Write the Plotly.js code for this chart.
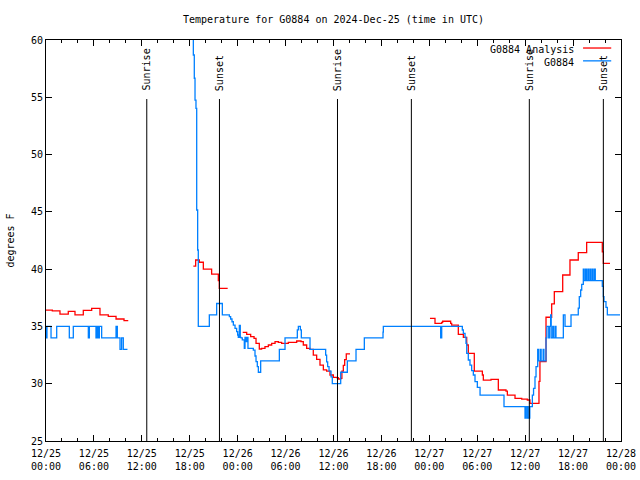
<!DOCTYPE html>
<html><head><meta charset="utf-8">
<script src="https://cdn.plot.ly/plotly-3.0.1.min.js"></script>
<style>html,body{margin:0;padding:0;background:#fff}#chart{width:640px;height:480px}</style>
</head><body><div id="chart"></div>
<script>
// Analysis series (hours since 2024-12-25 00:00 UTC, degrees F); null = gap
const analysisHours = [0,0.79,1.75,2.79,3.63,4.67,5.72,6.76,7.8,8.77,9.77,10.3, 14,
  18.45,18.74,19.2,19.7,20.74,21.58,21.7,22.75, 23.5,
  24.63,25.13,25.63,26.05,26.3,26.71,27.0,27.42,27.84,28.26,28.68,29.09,29.51,30.34,31.39,31.93,32.22,32.64,33.06,33.47,33.89,34.31,34.73,35.14,35.56,35.98,36.4,36.6,36.9,37.05,37.23,37.4,37.6,38.07, 42,
  48.08,48.71,49.55,49.67,50.67,50.8,51.63,52.26,52.68,52.88,53.63,54.64,54.76,55.72,56.64,57.6,57.77,58.73,59.57,60.27,60.6,61.73,61.85,62.61,63.32,63.65,64.7,65.61,66.65,67.7,69.66,69.79,70.62];
const analysisTemps = [36.43,36.35,36.08,36.32,36.0,36.4,36.58,36.0,35.88,35.65,35.5,35.5, null,
  40.27,40.8,40.6,40.01,39.57,38.99,38.33,38.33, null,
  34.48,34.31,34.11,33.96,33.52,33.03,33.09,33.23,33.38,33.52,33.67,33.61,33.52,33.61,33.73,33.67,33.38,33.09,33.0,32.5,32.13,31.63,31.2,31.1,30.76,30.56,30.53,30.41,30.47,31.1,31.6,32.1,32.6,32.6, null,
  35.71,35.27,35.36,35.45,35.27,35.12,34.31,34.05,33.38,32.65,31.1,30.76,30.32,30.38,29.45,29.36,29.0,28.72,28.66,28.58,28.29,30.2,31.93,35.8,36.96,38.03,39.49,40.8,41.44,42.34,41.5,40.5,40.5];

// Observation series
const obsHours = [0,0.04,0.12,0.63,1.34,2.92,3.42,5.3,5.43,6.26,6.35,6.45,6.52,6.6,6.68,6.97,8.77,8.93,9.27,9.47,9.68,10.2, 14,
  18.2,18.45,18.57,18.66,18.78,18.87,18.99,19.07,20.45,21.37,22.08,22.71,22.96,23.12,23.29,23.46,23.67,23.87,24.0,24.08,24.21,24.33,24.42,24.58,24.83,24.92,25.04,25.17,25.29,25.96,26.17,26.3,26.46,26.59,26.88,
  29.22,29.93,31.47,31.6,31.85,31.97,33.06,35.02,35.14,35.27,35.44,35.69,35.85,36.9,37.73,38.82,39.86,42.2,42.24,49.42,49.55,
  52.13,52.26,52.47,52.59,52.68,52.88,53.09,53.3,53.51,53.72,54.01,54.35,57.35,59.98,60.1,60.27,60.45,60.52,60.58,60.9,61.05,61.23,61.36,
  61.57,61.68,61.9,62.0,62.25,62.35,
  62.61,62.72,62.95,63.05,63.19,63.26,63.45,63.55,63.75,63.86,64.78,64.99,65.74,66.65,66.78,66.95,67.08,
  67.28,67.38,67.56,67.66,67.84,67.94,68.12,68.22,68.4,68.5,68.68,68.78,68.96,69.66,69.79,69.87,70.12,70.29,71.88];
const obsTemps = [35,34,35,34,35,34,35,34,35,34,35,34,35,34,35,34,35,34,33,34,33,33, null,
  75,58.69,56.66,54.76,54.04,45.16,41.67,35,36,37,36,36,35.85,35.65,35.41,35.12,34.83,34.54,34.25,34.05,35.1,34.05,34.0,33.82,33.09,34.05,33.67,34.05,33.09,32.94,32.42,31.92,31.49,31.0,32.0,
  33,34,34.7,35,34.7,34,33,32.5,31.9,31.5,31.1,30.6,30.0,31,32,33,34,34.5,35,34,35,
  34.69,34.4,34.05,33.52,32.65,32.07,31.63,31.14,30.76,30.18,29.68,29,28,27,28,27,28,27,28,29,29.6,30.6,31.5,
  33,32,33,32,33,32,
  34,35,34,35,36,34,35,34,35,34,36,35,36,36.6,37.6,38.18,38.67,
  40,39,40,39,40,39,40,39,40,39,40,39,39,38.5,37.6,37.16,36.67,36,36];

const sunEventHours = [12.62, 21.72, 36.5, 45.75, 60.52, 69.79];
const sunEventLabels = ['Sunrise','Sunset','Sunrise','Sunset','Sunrise','Sunset'];
const seriesNames = ['G0884 Analysis', 'G0884'];
const seriesColors = ['#ff0000', '#0080ff'];

const base = Date.UTC(2024, 11, 25);
const HR = 3600000;
const toT = h => base + h * HR;

const traces = [
  {x: analysisHours.map(toT), y: analysisTemps, name: seriesNames[0], type: 'scatter', mode: 'lines',
   line: {color: seriesColors[0], width: 1.3, shape: 'hv'}, connectgaps: false},
  {x: obsHours.map(toT), y: obsTemps, name: seriesNames[1], type: 'scatter', mode: 'lines',
   line: {color: seriesColors[1], width: 1.3, shape: 'hv'}, connectgaps: false}
];

const FONT = 'DejaVu Sans Mono, monospace';
const shapes = sunEventHours.map(h => ({type: 'line', xref: 'x', yref: 'y', x0: toT(h), x1: toT(h), y0: 25, y1: 54.85,
  line: {color: '#000', width: 1}}));
const annotations = sunEventHours.map((h, i) => ({x: toT(h), y: 55.4, xref: 'x', yref: 'y', text: sunEventLabels[i],
  textangle: -90, showarrow: false, xanchor: 'center', yanchor: 'bottom', font: {family: FONT, size: 10, color: '#000'}}));

// manual gnuplot-style key: text then sample line
const keyY = [0.976, 0.944];
seriesNames.forEach((n, i) => {
  annotations.push({x: 0.921, y: keyY[i], xref: 'paper', yref: 'paper', text: n, showarrow: false,
    xanchor: 'right', yanchor: 'middle', font: {family: FONT, size: 10, color: '#000'}});
  shapes.push({type: 'line', xref: 'paper', yref: 'paper', x0: 0.934, x1: 0.983, y0: keyY[i] + 0.004, y1: keyY[i] + 0.004,
    line: {color: seriesColors[i], width: 1.3}});
});

const layout = {
  width: 640, height: 480,
  margin: {l: 46, r: 19, t: 40, b: 39},
  paper_bgcolor: '#fff', plot_bgcolor: '#fff',
  font: {family: FONT, size: 10, color: '#000'},
  showlegend: false,
  title: {text: 'Temperature for G0884 on 2024-Dec-25 (time in UTC)', x: 0.5, xref: 'paper', y: 0.96, yanchor: 'middle',
    font: {family: FONT, size: 10, color: '#000'}},
  xaxis: {type: 'date', range: [toT(0), toT(72)], tick0: toT(0), dtick: 6 * HR, tickformat: '%m/%d<br>%H:%M',
    ticks: 'inside', ticklen: 6, tickcolor: '#000', showline: true, linecolor: '#000', linewidth: 1, mirror: 'ticks',
    ticklabelstandoff: 3,
    showgrid: false, zeroline: false, tickfont: {family: FONT, size: 10, color: '#000'},
    minor: {dtick: 2 * HR, ticks: 'inside', ticklen: 3, tickcolor: '#000'}},
  yaxis: {range: [25, 60], dtick: 5, ticks: 'inside', ticklen: 6, tickcolor: '#000', showline: true, linecolor: '#000',
    linewidth: 1, mirror: 'ticks', showgrid: false, zeroline: false, tickfont: {family: FONT, size: 10, color: '#000'},
    title: {text: 'degrees F', standoff: 14, font: {family: FONT, size: 10, color: '#000'}}},
  shapes: shapes,
  annotations: annotations
};

Plotly.newPlot('chart', traces, layout, {displayModeBar: false, staticPlot: true});
</script></body></html>
